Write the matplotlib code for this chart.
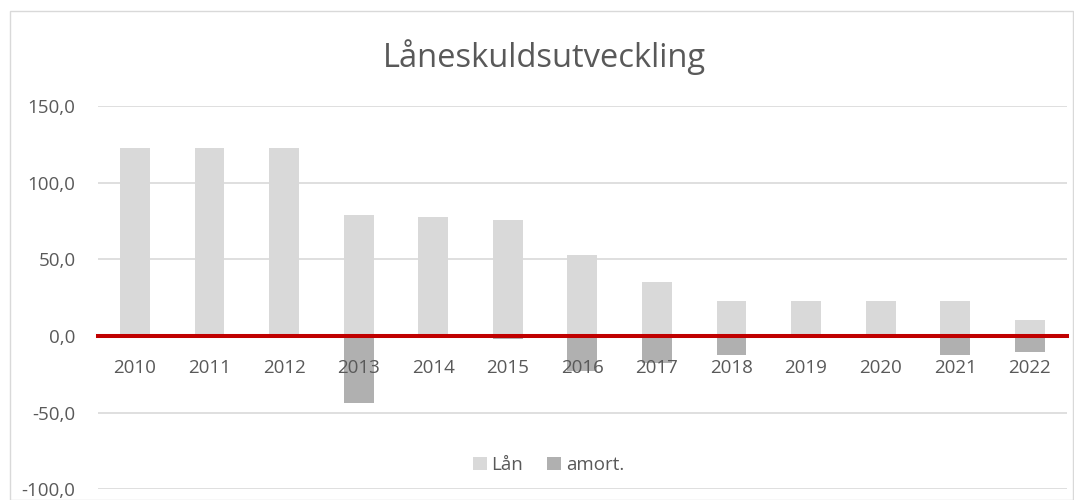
import matplotlib
matplotlib.use('Agg')
from matplotlib import pyplot as plt
from matplotlib.patches import Rectangle
from matplotlib.ticker import FuncFormatter

years = ['2010', '2011', '2012', '2013', '2014', '2015', '2016',
         '2017', '2018', '2019', '2020', '2021', '2022']
lan = [122.5, 122.5, 122.5, 79.0, 77.7, 75.9, 52.9,
       35.2, 22.8, 22.8, 22.8, 22.8, 10.4]
amort = [0.0, 0.0, 0.0, -43.5, -1.3, -1.8, -22.6,
         -17.4, -12.4, 0.0, 0.0, -12.4, -10.4]

plt.rcParams['font.family'] = ['Open Sans', 'DejaVu Sans']
txt = '#595959'

fig = plt.figure(figsize=(10.74, 5.0), dpi=100)
ax = fig.add_axes([0.091, 0.0214, 0.9025, 0.7666])

x = range(len(years))
ax.bar(x, lan, width=0.4, color='#D9D9D9', label='Lån', zorder=2)
ax.bar(x, amort, width=0.4, color='#B0B0B0', label='amort.', zorder=2)

ax.set_xlim(-0.5, len(years) - 0.5)
ax.set_ylim(-100, 150)
ax.set_yticks([-100, -50, 0, 50, 100, 150])
ax.yaxis.set_major_formatter(FuncFormatter(lambda v, p: ('%.1f' % v).replace('.', ',')))
ax.grid(axis='y', color='#D9D9D9', linewidth=1.2)
ax.set_axisbelow(True)
# year labels sit on top of the bars
ax.xaxis.set_zorder(3.5)

for s in ['top', 'right', 'left']:
    ax.spines[s].set_visible(False)
ax.spines['bottom'].set_position(('data', 0))
ax.spines['bottom'].set_color('#C00000')
ax.spines['bottom'].set_linewidth(2.9)
ax.spines['bottom'].set_zorder(3)

ax.set_xticks(list(x))
ax.set_xticklabels(years)
ax.tick_params(axis='x', length=0, pad=16.5, labelsize=13.5, labelcolor=txt)
ax.tick_params(axis='y', length=0, pad=16, labelsize=13.5, labelcolor=txt)

fig.text(0.507, 0.866, 'Låneskuldsutveckling', ha='center', va='baseline',
         fontsize=23.5, color=txt)

leg = ax.legend(loc='center', bbox_to_anchor=(0.465, 0.063), ncol=2, frameon=False,
                fontsize=13.5, handlelength=0.75, handleheight=0.75,
                handletextpad=0.25, columnspacing=1.3, borderaxespad=0)
for t in leg.get_texts():
    t.set_color(txt)

fig.patches.append(Rectangle((9.5, 0.5), 1063, 489, transform=None,
                             fill=False, edgecolor='#D9D9D9', linewidth=1))

fig.savefig('out.png', dpi=100)
